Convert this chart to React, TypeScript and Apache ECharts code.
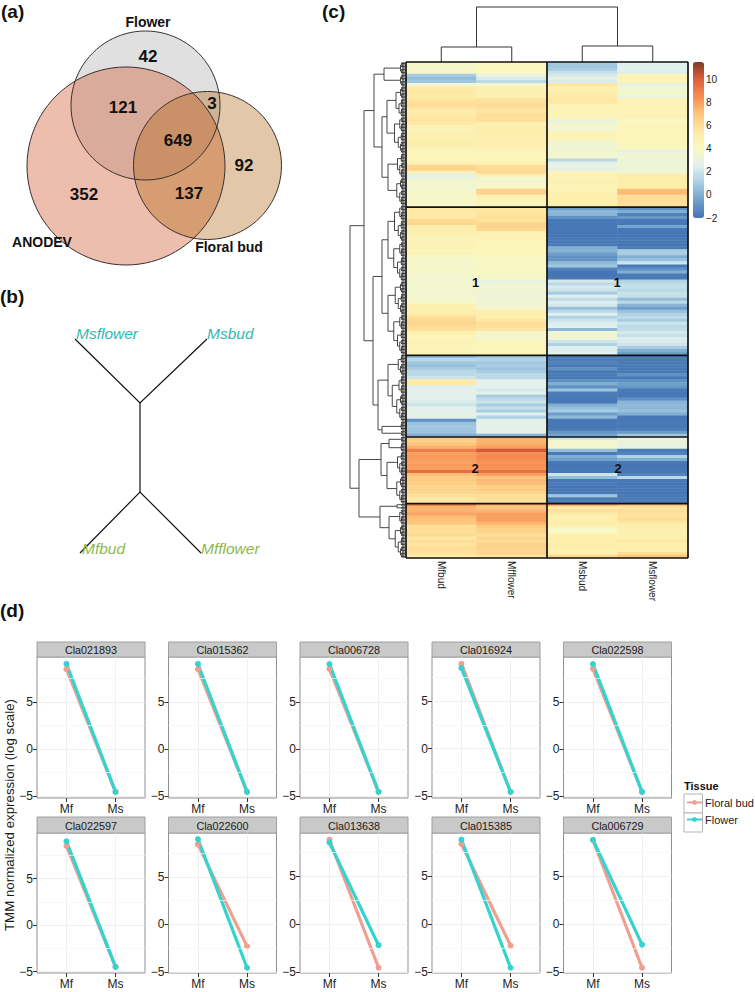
import React, { useEffect, useRef } from "react";
import * as echarts from "echarts";

// ---- panel (d) data ----
const tissues = ["Mf", "Ms"];
const genes = ["Cla021893","Cla015362","Cla006728","Cla016924","Cla022598","Cla022597","Cla022600","Cla013638","Cla015385","Cla006729"];
const floralBud = [[8.5,-4.55],[8.5,-4.55],[8.5,-4.55],[8.95,-4.55],[8.5,-4.55],[8.5,-4.5],[8.4,-2.3],[8.8,-4.55],[8.35,-2.25],[8.7,-4.55]];
const flower = [[9.05,-4.55],[9.05,-4.55],[9.0,-4.55],[8.5,-4.55],[9.0,-4.55],[9.0,-4.5],[8.95,-4.55],[8.5,-2.2],[8.8,-4.55],[8.75,-2.15]];
const yMins = [-5.2,-5.2,-5.2,-5.2,-5.2,-5.16,-5.1,-5.1,-5.1,-5.1];
const yMaxs = [9.79,9.79,9.75,9.68,9.75,9.9,9.6,9.5,9.5,9.45];
const yTicks = [-5,0,5];
const yMinor = [-2.5,2.5,7.5];

// ---- panel (c) data: rows of each cluster, per column ----
const columns = ["Mfbud","Mfflower","Msbud","Msflower"];
const mfbudA = [3.8,3.7,3.6,3.7,1.0,0.5,0.8,3.2,5.2,5.5,5.6,5.3,5.7,6.0,6.0,5.6,5.2,5.5,5.6,5.7,5.6,4.6,4.5,4.8,4.9,4.7,5.0,5.1,4.5,4.4,4.3,4.4,4.5,4.6,6.3,6.4,4.7,2.6,3.0,3.6,3.5,3.4,3.6,3.7,3.6,3.8,3.6,3.7];
const mfflowerA = [4.0,4.1,4.0,3.9,3.0,2.3,1.5,3.6,4.7,4.8,5.0,4.9,5.8,5.9,6.1,5.8,5.7,6.0,5.9,6.0,4.7,5.2,5.3,5.1,5.2,5.0,5.1,4.9,4.9,4.3,4.2,4.3,4.4,4.6,5.9,6.1,6.2,5.0,3.6,3.5,3.7,3.6,6.5,6.4,4.8,4.6,4.4,4.5];
const msbudA = [0.9,0.8,1.0,1.8,2.2,2.8,2.3,5.7,5.0,5.0,5.1,5.5,5.6,5.5,4.6,4.5,4.6,4.5,4.4,2.9,3.5,3.6,3.4,4.5,4.6,4.5,3.4,3.3,3.5,3.4,3.4,3.6,1.4,2.7,3.0,2.7,4.5,4.6,4.5,4.7,4.6,4.5,4.6,5.0,5.0,5.1,5.0,5.2];
const msflowerA = [2.6,2.5,2.7,2.4,4.5,4.6,4.4,2.9,3.5,3.4,3.6,3.0,4.4,4.5,4.6,4.6,4.5,4.7,4.6,3.9,4.3,4.4,4.5,4.3,4.4,4.4,4.3,4.2,4.2,2.9,3.3,3.4,3.3,3.2,3.2,3.3,3.4,5.2,5.3,5.2,5.3,5.1,7.2,7.3,6.0,6.1,6.0,5.9];
const mfbudB = [5.5,5.6,5.4,5.5,6.2,6.3,5.1,5.0,5.0,4.6,4.5,4.7,4.6,4.6,4.4,4.5,3.7,3.8,3.6,3.7,3.6,3.7,3.5,3.6,3.5,3.4,3.6,3.5,3.4,3.5,3.6,3.6,4.8,4.9,5.0,5.2,6.0,6.2,6.3,6.1,5.9,5.0,4.5,4.4,4.6,4.5,4.5,4.4,4.6];
const mfflowerB = [5.6,5.7,5.8,5.9,5.8,6.3,6.4,6.2,5.0,4.7,4.8,4.4,4.5,4.3,4.4,4.5,3.9,4.0,3.8,3.9,3.8,3.9,3.7,3.8,2.8,3.3,3.2,3.4,3.3,3.3,3.2,3.4,3.3,3.6,5.0,5.1,4.9,5.6,6.0,5.9,5.7,3.6,3.7,3.5,4.3,4.4,4.3,4.2,4.4];
const msbudB = [-0.5,0.3,0.2,-1.0,-1.9,-1.9,-1.9,-1.9,-2,-2,-1.9,-1.9,-1.8,0,0.1,-0.5,-1.0,-0.9,0.3,0.8,-1.5,-2,-2,-1.9,2.2,1.5,2.3,2.0,1.0,2.5,1.6,2.4,2.2,0.6,1.5,2.5,1.2,2.0,2.4,2.6,0.3,3.4,3.5,3.3,2.0,1.2,2.5,2.4,2.6];
const msflowerB = [-1.0,0,-1.5,-0.8,-1.9,-1.9,-0.3,-1.9,-2,-2,-1.9,-1.9,-2,-1.8,1.0,1.0,0,0.6,2.0,-1.8,-1.0,0,-1.8,-1.9,1.2,1.7,1.8,1.5,1.9,1.8,0.5,1.5,0.2,-0.5,0.6,1.2,1.6,1.0,2.0,1.5,1.7,2.2,1.8,2.4,2.3,2.0,1.0,0,-0.5];
const mfbudC = [0.5,1.5,0.8,0.5,1.0,1.5,1.5,2.0,5.4,5.5,2.5,2.6,2.7,2.6,2.6,2.3,2.0,2.7,2.6,2.8,2.7,-1.0,0.6,0.9,0.8,0.7,0.0];
const mfflowerC = [1.0,1.2,0.8,1.0,0.7,1.0,1.5,1.5,2.6,2.7,2.6,2.2,2.6,1.0,1.5,2.0,1.0,1.8,1.0,2.5,1.2,2.5,2.7,2.6,2.7,2.6,0.2];
const msbudC = [-1.7,-1.8,-1.6,-1.9,-1.0,-1.9,-1.8,-1.9,-1.0,0,-1.0,0.8,-1.7,-1.8,-1.9,-1.9,0,0.5,1.0,-0.5,0.3,-1.9,-1.9,-1.9,-1.8,-0.8,-0.4];
const msflowerC = [-1.8,-1.9,-1.9,-1.8,-1.9,-1.9,-1.0,-1.9,-1.0,-0.5,-0.8,-1.8,-1.9,-1.9,-1.0,0.2,0.4,0.3,0.6,0,-1.9,-1.9,-1.8,-1.9,-1.7,-0.6,0.8];
const mfbudD = [6.8,6.5,7.0,7.5,9.0,8.0,8.1,8.0,7.9,8.1,8.0,9.5,7.2,6.7,6.8,6.6,6.4,6.5,6.3,6.0,5.5,5.6];
const mfflowerD = [7.5,7.4,7.6,8.0,10.2,8.4,8.6,8.5,8.3,8.4,8.3,9.4,8.0,7.0,7.3,7.2,6.6,6.7,6.5,6.0,6.1,5.9];
const msbudD = [2.0,3.5,3.6,3.5,0.5,-1.8,0,-0.5,-1.9,-2,-1.9,-1.9,2.0,0.5,-1.9,-1.8,-2,-1.9,-1.9,0.8,-1.7,-1.8];
const msflowerD = [3.0,3.1,3.0,2.8,-1.8,-1.5,1.2,0,-1.9,-2,-1.9,-1.9,-1.5,1.5,-1.9,-2,-1.9,-1.9,-2,-1.9,-1.8,-1.9];
const mfbudE = [8.6,7.5,7.5,7.8,7.2,7,7,6,6,6,6.2,5.5,6,5.7,6,6,5.8,5.5];
const mfflowerE = [7.5,7,7.5,8,8,8,7.5,7,6.5,6.5,6,6.3,6,6.5,6.5,6.3,6.3,5.8];
const msbudE = [7.6,5.5,6,5.3,5,5,5.3,5,3.6,4,5,5,5,5.3,5,5,5,6.3];
const msflowerE = [7,5.8,6,5.8,5.8,6,5.5,5,5,4.8,5,5,5.5,5,5,5,6,7];
const colorTicks = [-2,0,2,4,6,8,10];
const heatColors = ["#4575b4","#6e9fcb","#a8cde3","#e0f0ee","#fbf8bf","#feeaa6","#fdc67c","#f78c52","#df5f3c","#7e3a26"];

// dendrogram trees: [height, left, right]; a plain number stands for that many neighbouring rows
const rowTree = [55,
  [41,
    [31,[21,4,4],[23,[18,10,12],[17,8,9]]],
    [32,[23,[17,12,13],[17,11,13]],[27,[17,7,15],[23,3,2]]]],
  [46,
    [24,[16,2,3],[18,8,9]],
    [25,[8,1,1],[16,5,11]]]];
const colTree = [55,[15,1,1],[16,1,1]];

// ---- panel (a) / (b) contents ----
const vennCounts = [
  { t: "42", x: 148, y: 56 }, { t: "121", x: 123, y: 107 }, { t: "3", x: 212, y: 103 },
  { t: "649", x: 178, y: 140 }, { t: "92", x: 244, y: 165 }, { t: "137", x: 189, y: 193 },
  { t: "352", x: 84, y: 194 },
];
const vennNames = [
  { t: "Flower", x: 148, y: 22 }, { t: "ANODEV", x: 42, y: 242 }, { t: "Floral bud", x: 229, y: 247 },
];
const treeTips = [
  { t: "Msflower", x: 76, y: 333, c: "#2fb8b2" }, { t: "Msbud", x: 207, y: 333, c: "#2fb8b2" },
  { t: "Mfbud", x: 82, y: 548, c: "#8ab84e" }, { t: "Mfflower", x: 201, y: 548, c: "#8ab84e" },
];
const FONT = "Liberation Sans";

// ---- layout ----
const panelLefts = [37, 168.5, 300, 432, 563.5];
const PW = 108;
const stripTops = [642, 817];
const panelTops = [657, 833];
const panelBottoms = [798, 973];
const HEAT = { left: 406, top: 62, width: 282, height: 496 };

function flattenTree(tree: any, leafBars = false) {
  const segs: number[][] = [];
  let next = 0;
  const comb = (n: number): { y: number; h: number } => {
    if (n === 1) {
      const y = next + 0.5; next += 1;
      if (leafBars) segs.push([1, y - 0.5, 1, y + 0.5], [2.2, y - 0.5, 2.2, y + 0.5], [3.4, y - 0.25, 3.4, y + 0.25]);
      return { y, h: 0 };
    }
    const a = n > 3 ? Math.ceil(n * 0.35) : Math.ceil(n / 2);
    const ra = comb(a), rb = comb(n - a);
    const h = 1.5 + n * 0.75;
    segs.push([h, ra.y, h, rb.y], [ra.h, ra.y, h, ra.y], [rb.h, rb.y, h, rb.y]);
    return { y: (ra.y + rb.y) / 2, h };
  };
  const walk = (node: any): { y: number; h: number } => {
    if (typeof node === "number") return comb(node);
    const [h, l, r] = node;
    const ra = walk(l), rb = walk(r);
    segs.push([h, ra.y, h, rb.y], [ra.h, ra.y, h, ra.y], [rb.h, rb.y, h, rb.y]);
    return { y: (ra.y + rb.y) / 2, h };
  };
  walk(tree);
  return { segs, count: next };
}

function buildOption() {
  const clusters = [
    [mfbudA, mfflowerA, msbudA, msflowerA],
    [mfbudB, mfflowerB, msbudB, msflowerB],
    [mfbudC, mfflowerC, msbudC, msflowerC],
    [mfbudD, mfflowerD, msbudD, msflowerD],
    [mfbudE, mfflowerE, msbudE, msflowerE],
  ];
  const heatData: number[][] = [];
  const bounds = [0];
  let row = 0;
  clusters.forEach((cl) => {
    cl[0].forEach((_, i) => {
      cl.forEach((col, c) => heatData.push([c, row + i, col[i]]));
    });
    row += cl[0].length;
    bounds.push(row);
  });
  const nRows = row;
  const rowNames = Array.from({ length: nRows }, (_, i) => String(i));

  const grids: any[] = [], xAxes: any[] = [], yAxes: any[] = [], series: any[] = [], graphic: any[] = [];
  const labelStyle = { color: "#222", fontFamily: FONT, fontSize: 12 };

  genes.forEach((g, i) => {
    const r = i < 5 ? 0 : 1;
    const left = panelLefts[i % 5];
    const top = panelTops[r];
    grids.push({ left, top, width: PW, height: panelBottoms[r] - top, show: true, backgroundColor: "#fff", borderColor: "#8f8f8f", borderWidth: 1 });
    xAxes.push({
      type: "value", gridIndex: i, min: 0.4, max: 2.6,
      axisLine: { show: false, onZero: false },
      axisTick: { show: true, length: 4, customValues: [1, 2], lineStyle: { color: "#333" } },
      axisLabel: { ...labelStyle, margin: 5, customValues: [1, 2], hideOverlap: false, showMinLabel: true, showMaxLabel: true, formatter: (v: number) => tissues[Math.round(v) - 1] },
      splitLine: { show: true, lineStyle: { color: "#ececec", width: 0.8 } },
    });
    yAxes.push({
      type: "value", gridIndex: i, min: yMins[i], max: yMaxs[i],
      axisLine: { show: false, onZero: false },
      axisTick: { show: true, length: 4, customValues: yTicks, lineStyle: { color: "#333" } },
      axisLabel: { ...labelStyle, margin: 4, customValues: yTicks, formatter: (v: number) => String(v).replace("-", "\u2212") },
      splitLine: { show: true, lineStyle: { color: "#ececec", width: 0.8 } },
    });
    const mk = (name: string, vals: number[], color: string, marks: boolean) => ({
      type: "line", name, xAxisIndex: i, yAxisIndex: i,
      data: vals.map((v, k) => [k + 1, v]),
      symbol: "circle", symbolSize: 6, silent: true,
      lineStyle: { color, width: 3.2 }, itemStyle: { color },
      ...(marks ? { markLine: { silent: true, symbol: "none", animation: false, label: { show: false }, lineStyle: { color: "#f5f5f5", width: 0.7, type: "solid" }, data: yMinor.map((m) => ({ yAxis: m })) } } : {}),
    });
    series.push(mk("Floral bud", floralBud[i], "#ee9f90", true));
    series.push(mk("Flower", flower[i], "#33d3ce", false));
    graphic.push({ type: "rect", shape: { x: left, y: stripTops[r], width: PW, height: top - stripTops[r] }, style: { fill: "#c9c9c9", stroke: "#a0a0a0", lineWidth: 1 } });
    graphic.push({ type: "text", x: left + PW / 2, y: (stripTops[r] + top) / 2 + 0.5, style: { text: g, fill: "#1a1a1a", font: `10.8px "${FONT}"`, textAlign: "center", textVerticalAlign: "middle" } });
  });

  // heatmap grid
  const hG = grids.length;
  grids.push({ ...HEAT });
  xAxes.push({
    type: "category", gridIndex: hG, data: columns, position: "bottom",
    axisLine: { show: false }, axisTick: { show: false },
    axisLabel: { rotate: -90, margin: 3, interval: 0, color: "#222", fontFamily: FONT, fontSize: 10 },
  });
  yAxes.push({ type: "category", gridIndex: hG, data: rowNames, inverse: true, show: false });
  const heatIndex = series.length;
  series.push({ type: "heatmap", xAxisIndex: hG, yAxisIndex: hG, data: heatData, silent: true, progressive: 0, itemStyle: { borderWidth: 0 } });

  // separators overlay, on scales matching the heatmap
  const sG = grids.length;
  grids.push({ ...HEAT });
  xAxes.push({ type: "value", gridIndex: sG, min: 0, max: columns.length, show: false });
  yAxes.push({ type: "value", gridIndex: sG, min: 0, max: nRows, inverse: true, show: false });
  const sepData: number[][] = [];
  bounds.forEach((b) => sepData.push([0, b, columns.length, b]));
  [0, columns.length / 2, columns.length].forEach((c) => sepData.push([c, 0, c, nRows]));
  series.push({
    type: "custom", xAxisIndex: sG, yAxisIndex: sG, silent: true, clip: false, z: 5, data: sepData,
    renderItem: (_: any, api: any) => {
      const a = api.coord([api.value(0), api.value(1)]), b = api.coord([api.value(2), api.value(3)]);
      return { type: "line", shape: { x1: a[0], y1: a[1], x2: b[0], y2: b[1] }, style: { stroke: "#111", lineWidth: 1.7 } };
    },
  });

  // row dendrogram
  const rowDend = flattenTree(rowTree, true);
  const rG = grids.length;
  grids.push({ left: 350, top: HEAT.top, width: 55, height: HEAT.height });
  xAxes.push({ type: "value", gridIndex: rG, min: 0, max: 55, inverse: true, show: false });
  yAxes.push({ type: "value", gridIndex: rG, min: 0, max: rowDend.count, inverse: true, show: false });
  series.push({
    type: "custom", xAxisIndex: rG, yAxisIndex: rG, silent: true, clip: false, data: rowDend.segs,
    renderItem: (_: any, api: any) => {
      const a = api.coord([api.value(0), api.value(1)]), b = api.coord([api.value(2), api.value(3)]);
      return { type: "line", shape: { x1: a[0], y1: a[1], x2: b[0], y2: b[1] }, style: { stroke: "#333", lineWidth: 0.9 } };
    },
  });

  // column dendrogram
  const colDend = flattenTree(colTree);
  const cG = grids.length;
  grids.push({ left: HEAT.left, top: 7, width: HEAT.width, height: 55 });
  xAxes.push({ type: "value", gridIndex: cG, min: 0, max: colDend.count, show: false });
  yAxes.push({ type: "value", gridIndex: cG, min: 0, max: 55, show: false });
  series.push({
    type: "custom", xAxisIndex: cG, yAxisIndex: cG, silent: true, clip: false, data: colDend.segs,
    renderItem: (_: any, api: any) => {
      const a = api.coord([api.value(1), api.value(0)]), b = api.coord([api.value(3), api.value(2)]);
      return { type: "line", shape: { x1: a[0], y1: a[1], x2: b[0], y2: b[1] }, style: { stroke: "#333", lineWidth: 1 } };
    },
  });

  // colour bar axis
  const bG = grids.length;
  grids.push({ left: 693, top: 62, width: 11, height: 156 });
  xAxes.push({ type: "value", gridIndex: bG, min: 0, max: 1, show: false });
  yAxes.push({
    type: "value", gridIndex: bG, min: -2, max: 11.5, position: "right",
    axisLine: { show: false }, axisTick: { show: false, customValues: colorTicks }, splitLine: { show: false },
    axisLabel: { customValues: colorTicks, margin: 2, color: "#222", fontFamily: FONT, fontSize: 10, formatter: (v: number) => String(v).replace("-", "\u2212") },
  });

  // (a) Venn
  const circle = (cx: number, cy: number, r: number, style: any, z = 1) => ({ type: "circle", z, shape: { cx, cy, r }, style });
  graphic.push(circle(145.5, 105.5, 74.5, { fill: "#e0e0e0" }));
  graphic.push(circle(126, 166, 99, { fill: "rgba(210,90,50,0.40)" }));
  graphic.push(circle(207.5, 165.5, 74, { fill: "rgba(175,100,15,0.36)" }));
  [[126, 166, 99], [207.5, 165.5, 74], [145.5, 105.5, 74.5]].forEach(([x, y, r]) =>
    graphic.push(circle(x, y, r, { fill: "none", stroke: "#3a3030", lineWidth: 1 }, 2)));
  vennCounts.forEach((n) => graphic.push({ type: "text", z: 3, x: n.x, y: n.y, style: { text: n.t, fill: "#111", font: `bold 17px "${FONT}"`, textAlign: "center", textVerticalAlign: "middle" } }));
  vennNames.forEach((n) => graphic.push({ type: "text", z: 3, x: n.x, y: n.y, style: { text: n.t, fill: "#111", font: `bold 14px "${FONT}"`, textAlign: "center", textVerticalAlign: "middle" } }));

  // (b) tree
  const black = { stroke: "#111", lineWidth: 1.2, fill: "none" };
  graphic.push({ type: "polyline", shape: { points: [[75, 339], [140, 403], [207, 339]] }, style: black });
  graphic.push({ type: "polyline", shape: { points: [[140, 403], [140, 492]] }, style: black });
  graphic.push({ type: "polyline", shape: { points: [[80, 553], [140, 492], [201, 553]] }, style: black });
  treeTips.forEach((n) => graphic.push({ type: "text", z: 3, x: n.x, y: n.y, style: { text: n.t, fill: n.c, font: `italic 15.5px "${FONT}"`, textAlign: "left", textVerticalAlign: "middle" } }));

  // panel letters
  [["(a)", 1, 11], ["(b)", 0, 296], ["(c)", 322, 11], ["(d)", 0, 610]].forEach(([t, x, y]) =>
    graphic.push({ type: "text", z: 3, x, y, style: { text: t, fill: "#111", font: `bold 19px "${FONT}"`, textVerticalAlign: "middle" } }));

  // heatmap cluster marks
  [["1", 475.5, 282], ["1", 617, 282], ["2", 475, 468], ["2", 618, 468]].forEach(([t, x, y]) =>
    graphic.push({ type: "text", z: 30, x, y, style: { text: t, fill: "#111", font: `bold 13px "${FONT}"`, textAlign: "center", textVerticalAlign: "middle" } }));

  // axis title and legend frame
  graphic.push({ type: "text", x: 9, y: 815, rotation: Math.PI / 2, style: { text: "TMM normalized expression (log scale)", fill: "#1a1a1a", font: `13.3px "${FONT}"`, textAlign: "center", textVerticalAlign: "middle" } });
  graphic.push({ type: "text", x: 684, y: 786, style: { text: "Tissue", fill: "#111", font: `bold 11px "${FONT}"`, textVerticalAlign: "middle" } });
  graphic.push({ type: "rect", shape: { x: 684, y: 794, width: 18.5, height: 19 }, style: { fill: "#fff", stroke: "#b5b5b5", lineWidth: 1 } });
  graphic.push({ type: "rect", shape: { x: 684, y: 813, width: 18.5, height: 19 }, style: { fill: "#fff", stroke: "#b5b5b5", lineWidth: 1 } });

  return {
    animation: false,
    backgroundColor: "#fff",
    textStyle: { fontFamily: FONT },
    grid: grids, xAxis: xAxes, yAxis: yAxes, series, graphic,
    legend: {
      data: ["Floral bud", "Flower"], orient: "vertical", left: 686, top: 797, padding: 0,
      itemWidth: 15, itemHeight: 6, itemGap: 6, selectedMode: false, z: 20,
      textStyle: { color: "#222", fontFamily: FONT, fontSize: 11, padding: [0, 0, 0, -2] },
    },
    visualMap: {
      type: "continuous", seriesIndex: heatIndex, dimension: 2, min: -2, max: 11.5,
      left: 693, top: 62, itemWidth: 11, itemHeight: 156, padding: 0, calculable: false, realtime: false, text: null, showLabel: false,
      inRange: { color: heatColors },
    },
  };
}

export default function App() {
  const ref = useRef<HTMLDivElement>(null);
  useEffect(() => {
    document.body.style.margin = "0";
    const chart = echarts.init(ref.current!, undefined, { renderer: "svg" });
    chart.setOption(buildOption() as any);
    return () => chart.dispose();
  }, []);
  return <div ref={ref} style={{ width: 755, height: 992 }} />;
}
